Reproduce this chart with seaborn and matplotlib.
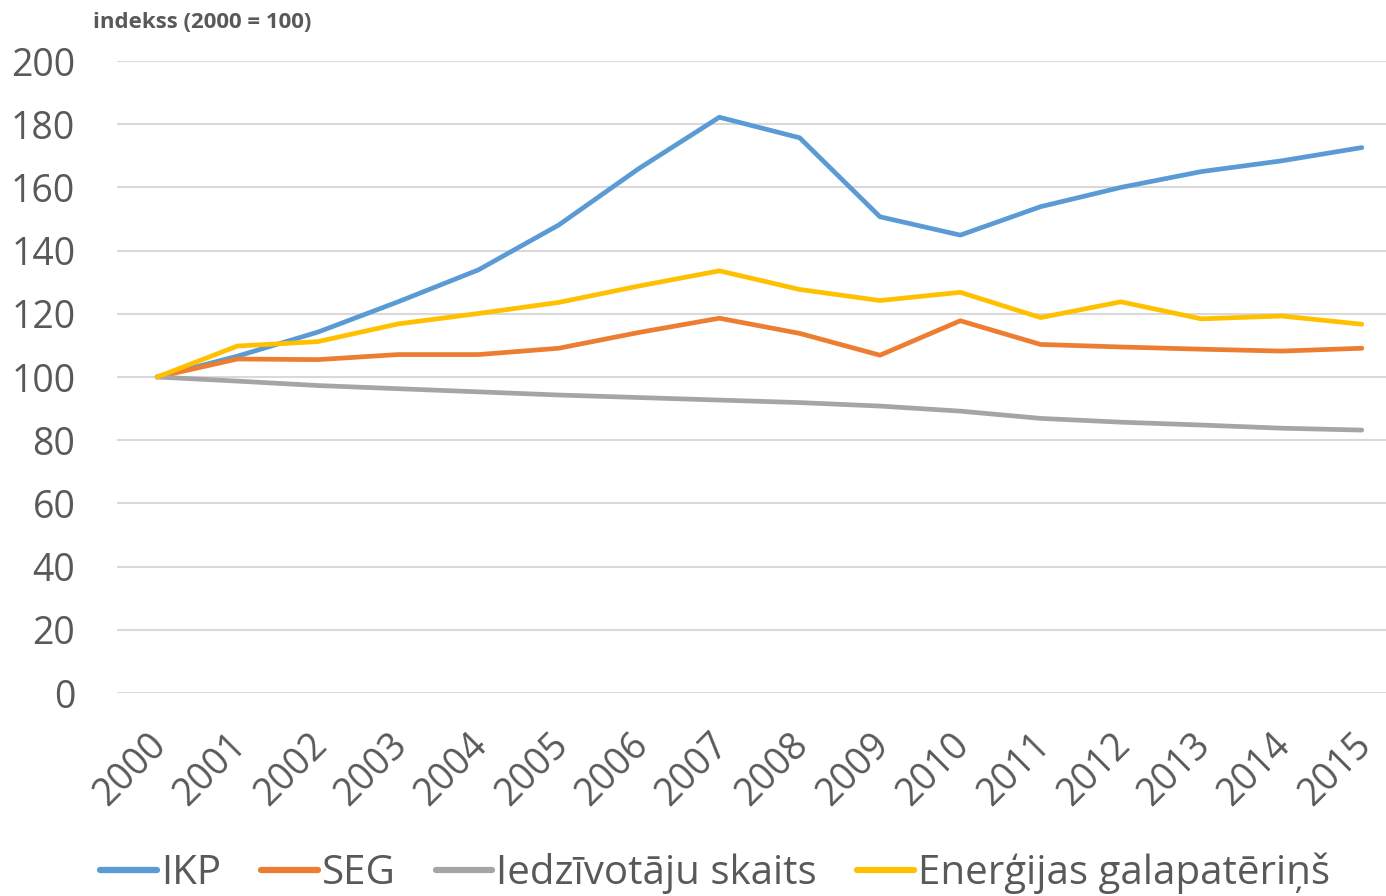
import matplotlib
matplotlib.use("Agg")
import matplotlib.pyplot as plt
import matplotlib.transforms as mtransforms
import seaborn as sns
import pandas as pd

years = [str(y) for y in range(2000, 2016)]
ikp = [100, 106.6, 114.2, 123.8, 133.9, 148.1, 166.0, 182.2, 175.7, 150.7, 144.9, 153.9, 160.0, 165.0, 168.4, 172.6]
seg = [100, 105.7, 105.5, 107.1, 107.1, 109.1, 114.1, 118.6, 113.8, 106.9, 117.8, 110.3, 109.5, 108.8, 108.2, 109.1]
iedz = [100, 98.7, 97.3, 96.3, 95.3, 94.3, 93.5, 92.7, 91.9, 90.8, 89.2, 86.9, 85.7, 84.8, 83.8, 83.2]
energ = [100, 109.8, 111.2, 116.8, 120.1, 123.6, 128.8, 133.6, 127.7, 124.2, 126.8, 118.8, 123.8, 118.4, 119.3, 116.7]
series_names = ["IKP", "SEG", "Iedzīvotāju skaits", "Enerģijas galapatēriņš"]
colors = ["#5B9BD5", "#ED7D31", "#A5A5A5", "#FFC000"]
y_ticks = list(range(0, 201, 20))
y_title = "indekss (2000 = 100)"

sns.set_theme(style="white")
plt.rcParams["font.family"] = ["Open Sans", "DejaVu Sans"]

frames = []
for name, vals in zip(series_names, [ikp, seg, iedz, energ]):
    frames.append(pd.DataFrame({"year": years, "value": vals, "series": name}))
df = pd.concat(frames, ignore_index=True)

fig = plt.figure(figsize=(13.86, 8.96), dpi=100)
ax = fig.add_axes([117/1386, (896-693)/896, (1402-117)/1386, 632/896])

sns.lineplot(data=df, x="year", y="value", hue="series", palette=colors,
             hue_order=series_names, linewidth=3.4, ax=ax, sort=False,
             solid_capstyle="round")

ax.set_ylim(0, 200)
ax.set_xlim(-0.5, 15.5)
ax.set_yticks(y_ticks)
ax.grid(axis="y", color="#D9D9D9", linewidth=1.5)
ax.set_axisbelow(True)
for s in ax.spines.values():
    s.set_visible(False)
ax.set_xlabel("")
ax.set_ylabel("")
ax.tick_params(axis="y", labelsize=27, colors="#595959", pad=30, length=0)
ax.tick_params(axis="x", labelsize=27, colors="#595959", length=0, pad=24)
shift = mtransforms.ScaledTranslation(-10/100, 0, fig.dpi_scale_trans)
for lab in ax.get_xticklabels():
    lab.set_rotation(45)
    lab.set_ha("right")
    lab.set_rotation_mode("anchor")
    lab.set_transform(lab.get_transform() + shift)

fig.text(93/1386, 1 - 22/896, y_title, fontsize=16, fontweight="bold",
         color="#595959", va="center", ha="left")

handles, labels = ax.get_legend_handles_labels()
ax.get_legend().remove()
leg = fig.legend(handles, labels, loc="center", bbox_to_anchor=(715/1386, 1 - 873/896),
                 ncol=4, frameon=False, fontsize=29, handlelength=1.4,
                 handletextpad=0.1, columnspacing=1.0, labelcolor="#595959")
for h in leg.get_lines():
    h.set_linewidth(4.5)

fig.savefig("out.png", dpi=100)
